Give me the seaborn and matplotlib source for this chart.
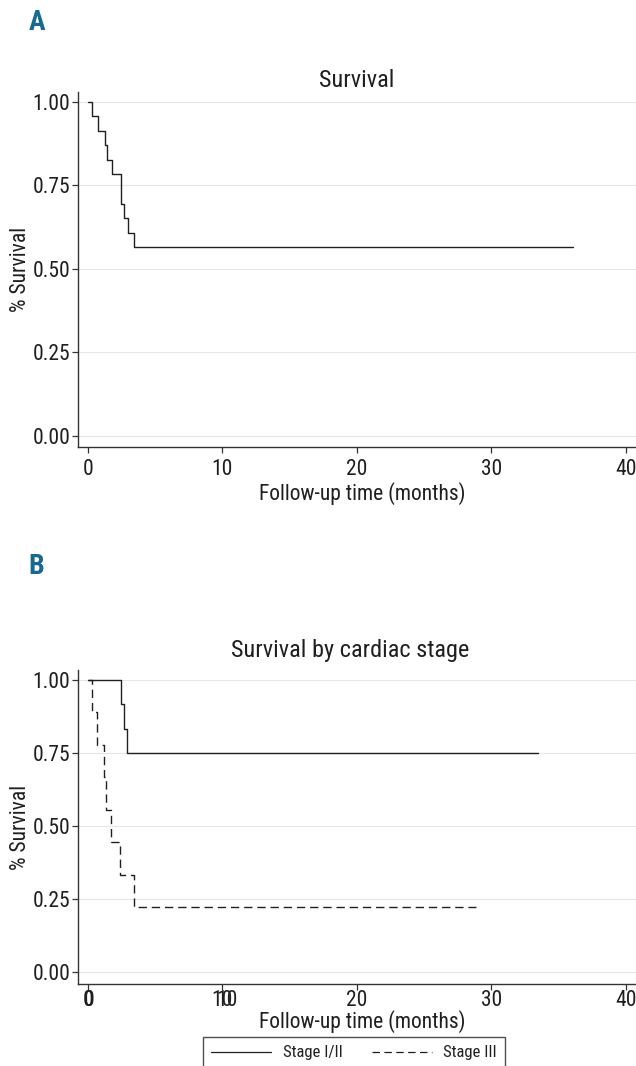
import numpy as np
import pandas as pd
import matplotlib
matplotlib.use("Agg")
import matplotlib.pyplot as plt
import matplotlib.transforms as mtransforms
from matplotlib import font_manager
from matplotlib.lines import Line2D
import seaborn as sns

# Kaplan-Meier step values
time_all = [0.0, 0.32, 0.72, 1.24, 1.39, 1.82, 2.47, 2.72, 3.01, 3.46, 36.1]
surv_all = [1.000, 0.957, 0.913, 0.870, 0.826, 0.783, 0.696, 0.652, 0.609, 0.565, 0.565]

time_s12 = [0.0, 2.44, 2.69, 2.94, 33.5]
surv_s12 = [1.000, 0.917, 0.833, 0.750, 0.750]

time_s3 = [0.0, 0.30, 0.70, 1.17, 1.35, 1.74, 2.40, 3.42, 28.9]
surv_s3 = [1.000, 0.889, 0.778, 0.667, 0.556, 0.444, 0.333, 0.222, 0.222]

x_ticks = [0, 10, 20, 30, 40]
y_ticks = [0.0, 0.25, 0.5, 0.75, 1.0]
y_ticklabels = ["0.00", "0.25", "0.50", "0.75", "1.00"]

sns.set_theme(style="white")
names = {f.name for f in font_manager.fontManager.ttflist}
narrow = [n for n in ['Roboto Condensed', 'Liberation Sans Narrow'] if n in names]
plt.rcParams['font.family'] = narrow + ['DejaVu Sans']
if not narrow:
    plt.rcParams['font.stretch'] = 'condensed'
ink = '#1f1f1f'
fs = 15.5

df_all = pd.DataFrame({'time': time_all, 'surv': surv_all})
df_stage = pd.concat([
    pd.DataFrame({'time': time_s12, 'surv': surv_s12, 'stage': 'Stage I/II'}),
    pd.DataFrame({'time': time_s3, 'surv': surv_s3, 'stage': 'Stage III'}),
])

fig = plt.figure(figsize=(6.36, 10.66), dpi=100)
axA = fig.add_axes([0.1226, 0.5807, 0.8774, 0.333])
axB = fig.add_axes([0.1226, 0.0769, 0.8774, 0.2946])

sns.lineplot(data=df_all, x='time', y='surv', ax=axA, color=ink, lw=1.0,
             drawstyle='steps-post', estimator=None, sort=False)
sns.lineplot(data=df_stage, x='time', y='surv', style='stage', ax=axB, color=ink, lw=1.0,
             drawstyle='steps-post', estimator=None, sort=False,
             dashes={'Stage I/II': '', 'Stage III': (6, 3.5)}, legend=False)

def style_axis(ax, ylim, xpad, xlab_y):
    ax.set_xlim(-0.74, 40.77)
    ax.set_ylim(*ylim)
    ax.set_xticks(x_ticks)
    ax.set_yticks(y_ticks)
    ax.set_yticklabels(y_ticklabels)
    ax.grid(axis='y', color='#e6e6e6', lw=0.8)
    ax.grid(axis='x', visible=False)
    for s in ['top', 'right']:
        ax.spines[s].set_visible(False)
    for s in ['left', 'bottom']:
        ax.spines[s].set_color('#333333')
        ax.spines[s].set_linewidth(1.0)
    ax.tick_params(axis='both', direction='out', length=4, width=0.9, color='#333333',
                   labelsize=fs, labelcolor=ink, left=True, bottom=True)
    ax.tick_params(axis='y', pad=1.5)
    ax.tick_params(axis='x', pad=xpad)
    ax.set_xlabel('Follow-up time (months)', fontsize=fs, color=ink)
    ax.set_ylabel('% Survival', fontsize=fs, color=ink)
    ax.xaxis.set_label_coords(0.51, xlab_y)
    ax.yaxis.set_label_coords(-0.085, 0.5)

style_axis(axA, (-0.033, 1.03), 5, -0.098)
style_axis(axB, (-0.041, 1.034), 0.5, -0.084)
axA.set_title('Survival', fontsize=17.5, color=ink, pad=3.6)
axB.set_title('Survival by cardiac stage', fontsize=17.5, color=ink, pad=9, x=0.487)

# overlapping duplicate tick labels seen in panel B
trB = axB.get_xaxis_transform() + mtransforms.ScaledTranslation(0, -4.5 / 72, fig.dpi_scale_trans)
axB.text(0.08, 0, '0', transform=trB, ha='center', va='top', fontsize=fs, color=ink)
axB.text(10.35, 0, '10', transform=trB, ha='center', va='top', fontsize=fs, color=ink)

# legend
handles = [Line2D([], [], color=ink, lw=0.9),
           Line2D([], [], color=ink, lw=0.9, dashes=(6, 3.5))]
leg = fig.legend(handles, ['Stage I/II', 'Stage III'], ncol=2, loc='upper center',
                 bbox_to_anchor=(354 / 636, 1 - 1037 / 1066), fontsize=12,
                 frameon=True, fancybox=False, handlelength=3.6, handletextpad=0.7,
                 columnspacing=1.75, borderpad=0.5, borderaxespad=0)
leg.get_frame().set_edgecolor('#222222')
leg.get_frame().set_linewidth(1.0)
for t in leg.get_texts():
    t.set_color(ink)

# panel letters
fig.text(37 / 636, 1 - 23 / 1066, 'A', fontsize=20, fontweight='bold', color='#17698f',
         ha='center', va='center')
fig.text(36 / 636, 1 - 567 / 1066, 'B', fontsize=20, fontweight='bold', color='#17698f',
         ha='center', va='center')

fig.savefig('out.png', dpi=100)
